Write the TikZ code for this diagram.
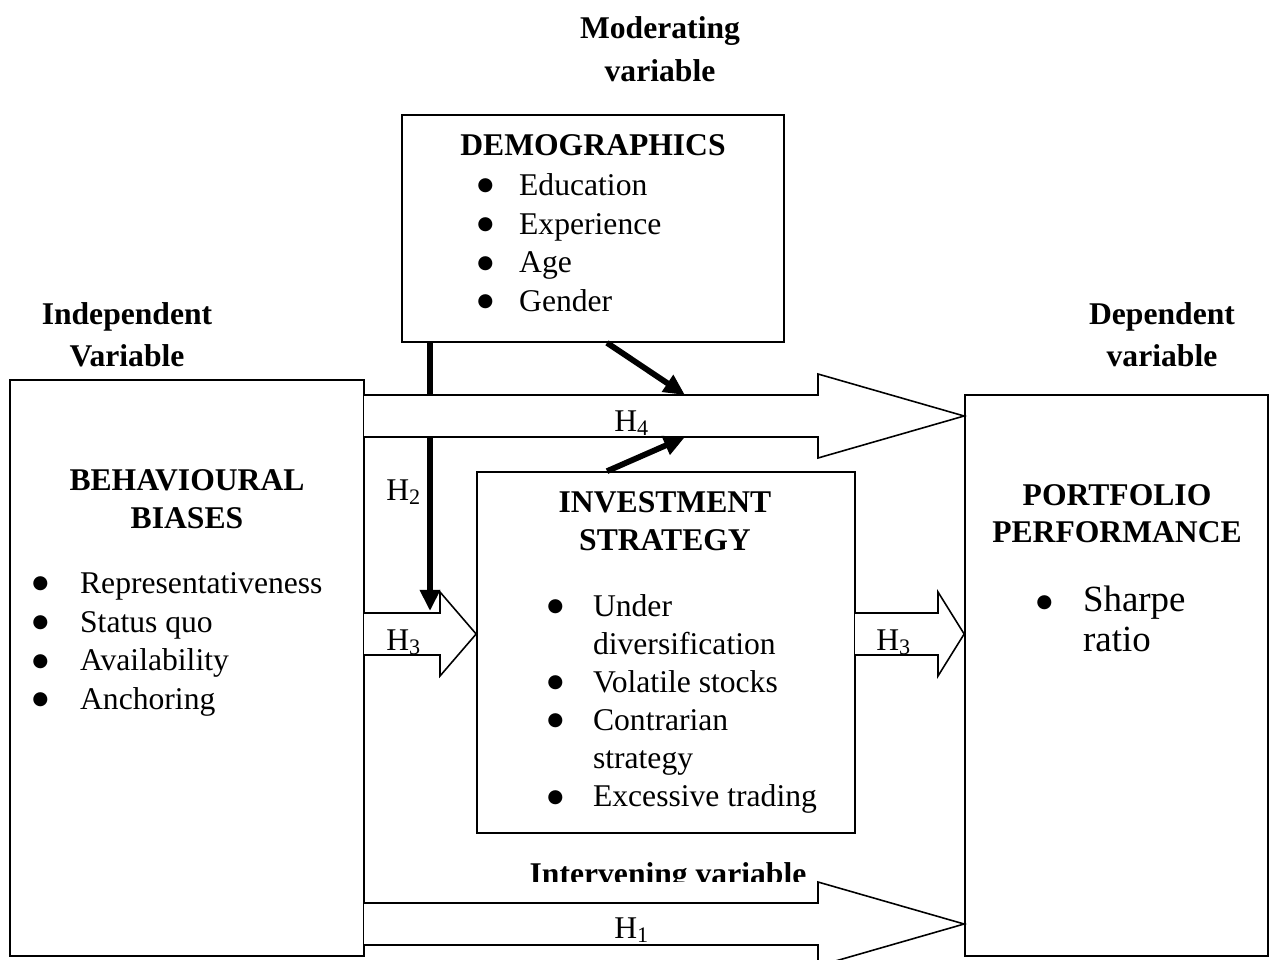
\documentclass[tikz,border=0pt]{standalone}
\usepackage{fontspec}
\setmainfont{Liberation Serif}
\newfontfamily\symfont{DejaVu Sans}
\usetikzlibrary{arrows.meta}

\newcommand{\bi}[1][24pt]{\makebox[#1][l]{\raisebox{2.8pt}{\symfont\fontsize{10.5pt}{10.5pt}\selectfont ●}}}

\begin{document}
\begin{tikzpicture}[x=0.02cm,y=-0.02cm]
	\tikzset{box/.style={draw,line width=1pt,inner sep=0pt},
		txt/.style={inner sep=0pt,font=\fontsize{18pt}{22.1pt}\selectfont},
		ttl/.style={inner sep=0pt,align=center,anchor=north,font=\fontsize{18pt}{21.5pt}\selectfont\bfseries},
		lst/.style={inner sep=0pt,align=left,anchor=north west},
		blk/.style={draw,line width=0.9pt,fill=white,line join=miter},
		thk/.style={line width=3.3pt,-{Triangle[length=12pt,width=11pt]}}}
	\useasboundingbox (0,0) rectangle (1271,960);

	\node[box,minimum width=7.64cm,minimum height=4.54cm] (demo) at (593,228.5) {};
	\node[box,minimum width=7.08cm,minimum height=11.52cm] (bias) at (187,668) {};
	\node[box,minimum width=7.56cm,minimum height=7.22cm] (strat) at (666,652.5) {};
	\node[box,minimum width=6.06cm,minimum height=11.22cm] (port) at (1116.5,675.5) {};

	\node[ttl,font=\fontsize{18pt}{24.4pt}\selectfont\bfseries] (modlbl) at (660,16) {Moderating\\variable};
	\node[ttl,font=\fontsize{18pt}{23.8pt}\selectfont\bfseries] (indlbl) at (127,302) {Independent\\Variable};
	\node[ttl,font=\fontsize{18pt}{23.8pt}\selectfont\bfseries] (deplbl) at (1162,302) {Dependent\\variable};

	\node[ttl] (demottl) at (593,134) {DEMOGRAPHICS};
	\node[ttl] (biasttl) at (187,469) {BEHAVIOURAL\\BIASES};
	\node[ttl] (stratttl) at (665,491) {INVESTMENT\\STRATEGY};
	\node[ttl,font=\fontsize{18pt}{21pt}\selectfont\bfseries] (portttl) at (1117,484) {PORTFOLIO\\PERFORMANCE};

	\node[lst,font=\fontsize{18pt}{22.1pt}\selectfont] (demolst) at (477,173)
		{\bi[23.8pt]Education\\\bi[23.8pt]Experience\\\bi[23.8pt]Age\\\bi[23.8pt]Gender};
	\node[lst,font=\fontsize{18pt}{22.1pt}\selectfont] (biaslst) at (32,572)
		{\bi[27.2pt]Representativeness\\\bi[27.2pt]Status quo\\\bi[27.2pt]Availability\\\bi[27.2pt]Anchoring};
	\node[lst,font=\fontsize{18pt}{21.7pt}\selectfont] (stratlst) at (547,594)
		{\bi[26pt]Under\\\hspace*{26pt}diversification\\\bi[26pt]Volatile stocks\\\bi[26pt]Contrarian\\\hspace*{26pt}strategy\\\bi[26pt]Excessive trading};
	\node[lst,font=\fontsize{21pt}{22.7pt}\selectfont] (portlst) at (1036,586)
		{\bi[26.6pt]Sharpe\\\hspace*{26.6pt}ratio};

	\coordinate (h2tip) at (430,611);
	\coordinate (h4) at (630,416);
	\coordinate (h3) at (420,634);
	\coordinate (h1) at (630,924);

	% moderator line runs under the H4 arrow
	\draw[thk] (demo.south -| h2tip) -- (h2tip);

	\draw[blk] (364,395) -- (818,395) -- (818,374) -- (port.west |- h4) -- (818,458) -- (818,437) -- (364,437);
	\draw[blk] (364,613) -- (440,613) -- (440,592) -- (strat.west |- h3) -- (440,676) -- (440,655) -- (364,655);
	\draw[blk] (855,613) -- (938,613) -- (938,592) -- (port.west |- h3) -- (938,676) -- (938,655) -- (855,655);
	\draw[blk] (364,903) -- (818,903) -- (818,882) -- (port.west |- h1) -- (818,966) -- (818,945) -- (364,945);

	\coordinate (modA) at (685,395);
	\coordinate (modB) at (685,437);
	\draw[thk] ([xshift=0.28cm]demo.south) -- (modA);
	\draw[thk] ([xshift=-1.18cm]strat.north) -- (modB);

	\node[txt,anchor=base west] (h4lbl) at (614,431) {H\textsubscript{4}};
	\node[txt,anchor=base west] (h2lbl) at (386,500) {H\textsubscript{2}};
	\node[txt,anchor=base west] (h3lbl) at (386,650) {H\textsubscript{3}};
	\node[txt,anchor=base west] (h3lblb) at (876,650) {H\textsubscript{3}};
	\node[txt,anchor=base west] (h1lbl) at (614,938) {H\textsubscript{1}};

	\begin{scope}
		\clip (400,850) rectangle (900,881);
		\node[ttl] (intlbl) at (668,862) {Intervening variable};
	\end{scope}
\end{tikzpicture}
\end{document}
